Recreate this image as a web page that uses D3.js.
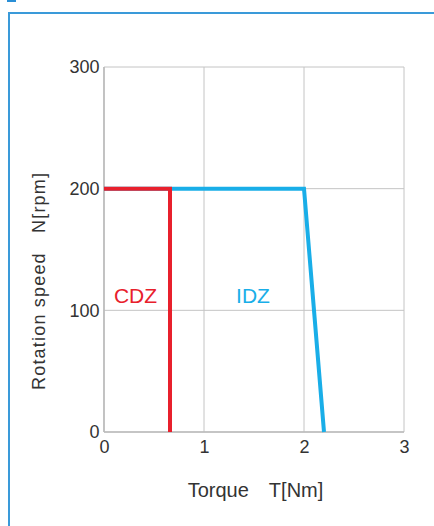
<!DOCTYPE html>
<html><head><meta charset="utf-8">
<script src="https://cdn.jsdelivr.net/npm/d3@7"></script>
<style>body{margin:0;background:#fff}svg{display:block}</style>
</head><body>
<script>
const xTicks = [0, 1, 2, 3];
const yTicks = [0, 100, 200, 300];
const cdzTorque = [0, 0.66, 0.66];
const cdzSpeed = [200, 200, 0];
const idzTorque = [0, 2.0, 2.2];
const idzSpeed = [200, 200, 0];
const seriesNames = ["CDZ", "IDZ"];
const labelTorque = [0.315, 1.49];
const labelSpeed = [106, 106];
const xTitle = "Torque\u3000T[Nm]";
const yTitle = "Rotation speed\u3000N[rpm]";

const W = 434, H = 526;
const svg = d3.select("body").append("svg").attr("width", W).attr("height", H);
const x = d3.scaleLinear().domain([0, 3]).range([104, 404]);
const y = d3.scaleLinear().domain([0, 300]).range([432, 67]);
const font = "'Liberation Sans', Arial, sans-serif";
const narrow = "'Liberation Sans Narrow', 'Arial Narrow', sans-serif";

// frame
svg.append("rect").attr("x", 7).attr("y", 0).attr("width", 9).attr("height", 2).attr("fill", "#2a8fd6");
svg.append("path").attr("d", `M9,${H}V13H${W}`).attr("fill", "none").attr("stroke", "#3a9ad9").attr("stroke-width", 2);

// grid
const g = svg.append("g");
g.selectAll(".vg").data(xTicks).join("line")
  .attr("x1", d => x(d)).attr("x2", d => x(d)).attr("y1", y(300)).attr("y2", y(0))
  .attr("stroke", "#c4c4c4").attr("stroke-width", 1);
g.selectAll(".hg").data(yTicks).join("line")
  .attr("x1", x(0)).attr("x2", x(3)).attr("y1", d => y(d)).attr("y2", d => y(d))
  .attr("stroke", "#c4c4c4").attr("stroke-width", 1);
g.append("line").attr("x1", x(0)).attr("x2", x(0)).attr("y1", y(300)).attr("y2", y(0)).attr("stroke", "#bbb").attr("stroke-width", 1.6);
g.append("line").attr("x1", x(0)).attr("x2", x(3)).attr("y1", y(0)).attr("y2", y(0)).attr("stroke", "#bbb").attr("stroke-width", 1.6);

// axes via d3
const xa = svg.append("g").attr("transform", `translate(0,${y(0)})`)
  .call(d3.axisBottom(x).tickValues(xTicks).tickSize(0).tickPadding(8).tickFormat(d3.format("d")));
const ya = svg.append("g").attr("transform", `translate(${x(0)},0)`)
  .call(d3.axisLeft(y).tickValues(yTicks).tickSize(0).tickPadding(4.5).tickFormat(d3.format("d")));
[xa, ya].forEach(a => {
  a.attr("font-size", null).attr("font-family", null);
  a.select(".domain").remove();
  a.selectAll("text").style("font-family", narrow).style("font-size", "18px").attr("fill", "#333");
});

// lines
const line = d3.line().x(d => x(d[0])).y(d => y(d[1]));
svg.append("path").datum(d3.zip(idzTorque, idzSpeed)).attr("d", line)
  .attr("fill", "none").attr("stroke", "#19aee8").attr("stroke-width", 4).attr("stroke-linejoin", "miter");
svg.append("path").datum(d3.zip(cdzTorque, cdzSpeed)).attr("d", line)
  .attr("fill", "none").attr("stroke", "#e8202c").attr("stroke-width", 4).attr("stroke-linejoin", "miter");

// series labels
const colors = ["#e8202c", "#19aee8"];
svg.selectAll(".sl").data(seriesNames).join("text")
  .attr("x", (d, i) => x(labelTorque[i])).attr("y", (d, i) => y(labelSpeed[i]))
  .attr("text-anchor", "middle").style("font-family", font).style("font-size", "21px")
  .attr("fill", (d, i) => colors[i]).text(d => d);

// titles
svg.append("text").attr("x", 255.5).attr("y", 497).attr("text-anchor", "middle")
  .style("font-family", font).style("font-size", "20px").attr("fill", "#333").text(xTitle);
svg.append("text").attr("transform", "translate(45,281.5) rotate(-90)").attr("text-anchor", "middle")
  .style("font-family", font).style("font-size", "18px").attr("fill", "#333")
  .attr("textLength", 217).attr("lengthAdjust", "spacing").text(yTitle);
</script>
</body></html>
